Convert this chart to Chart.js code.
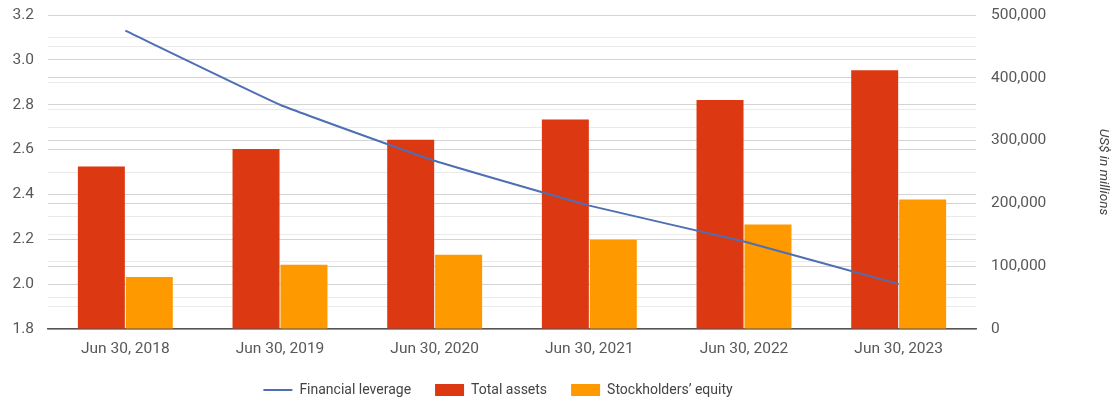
<!DOCTYPE html>
<html>
<head>
<meta charset="utf-8">
<script src="https://cdn.jsdelivr.net/npm/chart.js@4/dist/chart.umd.min.js"></script>
<style>
  html, body { margin: 0; padding: 0; background: #fff; }
  #wrap { width: 1116px; height: 401px; }
</style>
</head>
<body>
<div id="wrap"><canvas id="chart"></canvas></div>
<script>
  // data
  var periods = ['Jun 30, 2018', 'Jun 30, 2019', 'Jun 30, 2020', 'Jun 30, 2021', 'Jun 30, 2022', 'Jun 30, 2023'];
  var leverage = [3.13, 2.80, 2.55, 2.35, 2.19, 2.00];
  var totalAssets = [258848, 286556, 301311, 333779, 364840, 411976];
  var equity = [82718, 102330, 118304, 141988, 166542, 206223];

  var textColor = '#585858';
  var font = { family: 'Roboto, Arial, sans-serif', size: 15.5 };

  function gridColor(ctx){ return ctx.index % 2 === 0 ? '#d4d4d4' : '#eaeaea'; }

  // value axes: fixed width, no extra top/bottom padding for the end labels
  function fixWidth(w){
    return function(s){ s.width = w; s.paddingTop = 0; s.paddingBottom = 0; };
  }

  // legend: fixed height, placed under the plot area like the original
  var legendTweak = {
    id: 'legendTweak',
    beforeLayout: function(chart){
      var lg = chart.legend;
      if (lg && !lg._tweaked){
        var fit = lg.fit;
        lg.fit = function(){ fit.call(this); this.height = 45; };
        lg._tweaked = true;
      }
    },
    afterLayout: function(chart){
      var lg = chart.legend;
      var shift = (chart.chartArea.left + chart.chartArea.right) / 2 - (lg.left + lg.right) / 2 - 14;
      lg.left += shift; lg.right += shift;
      lg.top += 3; lg.bottom += 3;
    }
  };

  new Chart(document.getElementById('chart'), {
    data: {
      labels: periods,
      datasets: [
        { type: 'line', label: 'Financial leverage', data: leverage, yAxisID: 'y',
          borderColor: '#4e6fb3', backgroundColor: '#4e6fb3', borderWidth: 2,
          pointRadius: 0, tension: 0.1, order: 0 },
        { type: 'bar', label: 'Total assets', data: totalAssets, yAxisID: 'y1',
          backgroundColor: '#dc3912', barPercentage: 0.98, categoryPercentage: 0.62, order: 1 },
        { type: 'bar', label: 'Stockholders\u2019 equity', data: equity, yAxisID: 'y1',
          backgroundColor: '#ff9900', barPercentage: 0.98, categoryPercentage: 0.62, order: 1 }
      ]
    },
    plugins: [legendTweak],
    options: {
      responsive: true,
      maintainAspectRatio: false,
      animation: false,
      layout: { padding: { top: 15, left: 0, right: 0, bottom: 0 } },
      plugins: {
        tooltip: { enabled: false },
        legend: {
          position: 'bottom',
          labels: {
            usePointStyle: true, pointStyleWidth: 29, boxHeight: 12,
            color: '#444', font: { family: font.family, size: 14 }, padding: 24,
            generateLabels: function(chart){
              var items = Chart.defaults.plugins.legend.labels.generateLabels(chart);
              items.forEach(function(it){ it.pointStyle = it.datasetIndex === 0 ? 'line' : 'rect'; });
              return items;
            }
          }
        }
      },
      scales: {
        x: {
          afterFit: function(s){ s.height = 27; },
          grid: { display: false, drawTicks: false },
          border: { color: '#555', width: 1.5 },
          ticks: { color: textColor, font: font, padding: 11, maxRotation: 0 }
        },
        y: {
          position: 'left', min: 1.8, max: 3.2,
          afterFit: fixWidth(48),
          border: { display: false },
          grid: { color: gridColor, drawTicks: false },
          ticks: { stepSize: 0.1, autoSkip: false, color: textColor, font: font, padding: 14,
            callback: function(v, i){ return i % 2 === 0 ? Number(v).toFixed(1) : ''; } }
        },
        y1: {
          position: 'right', min: 0, max: 500000,
          afterFit: fixWidth(140),
          border: { display: false },
          grid: { color: gridColor, drawTicks: false },
          ticks: { stepSize: 50000, autoSkip: false, color: textColor, font: font, padding: 15,
            callback: function(v, i){ return i % 2 === 0 ? Number(v).toLocaleString('en-US') : ''; } },
          title: { display: true, text: 'US$ in millions', color: '#444',
            font: { family: font.family, size: 13.5, style: 'italic' }, padding: { top: 5, bottom: 0 } }
        }
      }
    }
  });
</script>
</body>
</html>
